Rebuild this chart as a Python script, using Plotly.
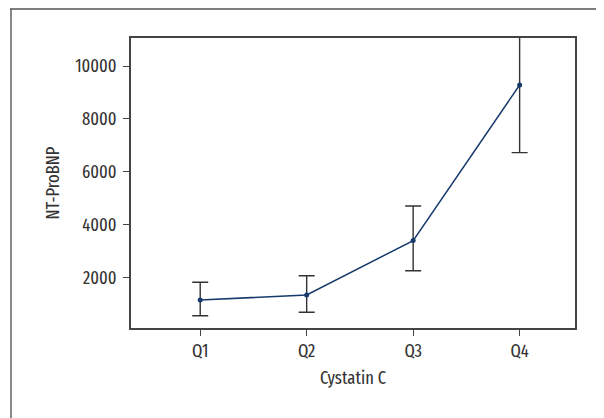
import plotly.graph_objects as go

categories = ["Q1", "Q2", "Q3", "Q4"]
means = [1140, 1330, 3390, 9280]
err_plus = [670, 730, 1310, 2560]
err_minus = [595, 656, 1140, 2560]
y_ticks = [2000, 4000, 6000, 8000, 10000]

FONT = "Fira Sans Extra Condensed, Fira Sans Condensed, PT Sans Narrow, DejaVu Sans Condensed, sans-serif"
FS = 18
FW = 400

fig = go.Figure()
fig.add_trace(go.Scatter(
    x=categories, y=means, mode="lines+markers",
    line=dict(color="#163a6b", width=1.5),
    marker=dict(color="#163a6b", size=5),
    error_y=dict(type="data", symmetric=False, array=err_plus, arrayminus=err_minus,
                 color="#333333", thickness=1.4, width=8),
    showlegend=False,
))

OFF = 8  # page body margin
L, R, T, B = 131 - OFF, 575 - OFF, 38 - OFF, 328 - OFF
W, H = 604, 418
pw, ph = R - L, B - T

def px(x):
    return (x - OFF - L) / pw

def py(y):
    return (B - (y - OFF)) / ph

tf = dict(family=FONT, size=FS, weight=FW, color="#333333")

fig.update_layout(
    width=W, height=H,
    margin=dict(l=L, r=W - R, t=T, b=H - B),
    paper_bgcolor="white", plot_bgcolor="white",
    font=tf,
    xaxis=dict(
        range=[-0.65, 3.52], showgrid=False, zeroline=False,
        showline=True, linecolor="#444444", linewidth=1.5, mirror=True,
        ticks="outside", ticklen=6, tickcolor="#444444", tickwidth=1.2,
        title=dict(text="Cystatin C", font=tf, standoff=10),
        tickfont=tf,
    ),
    yaxis=dict(
        range=[80, 11060], showgrid=False, zeroline=False,
        showline=True, linecolor="#444444", linewidth=1.5, mirror=True,
        ticks="outside", ticklen=6, tickcolor="#444444", tickwidth=1.2,
        tickvals=y_ticks, ticktext=[str(v) for v in y_ticks],
        ticklabelstandoff=3,
        title=dict(text="NT-ProBNP", font=tf, standoff=11),
        tickfont=tf,
    ),
    shapes=[
        dict(type="line", xref="paper", yref="paper",
             x0=px(11), x1=px(11), y0=py(9), y1=py(440),
             line=dict(color="#888888", width=2)),
        dict(type="line", xref="paper", yref="paper",
             x0=px(10), x1=px(640), y0=py(9), y1=py(9),
             line=dict(color="#555555", width=1.5)),
    ],
)

fig.write_html("out.html")
